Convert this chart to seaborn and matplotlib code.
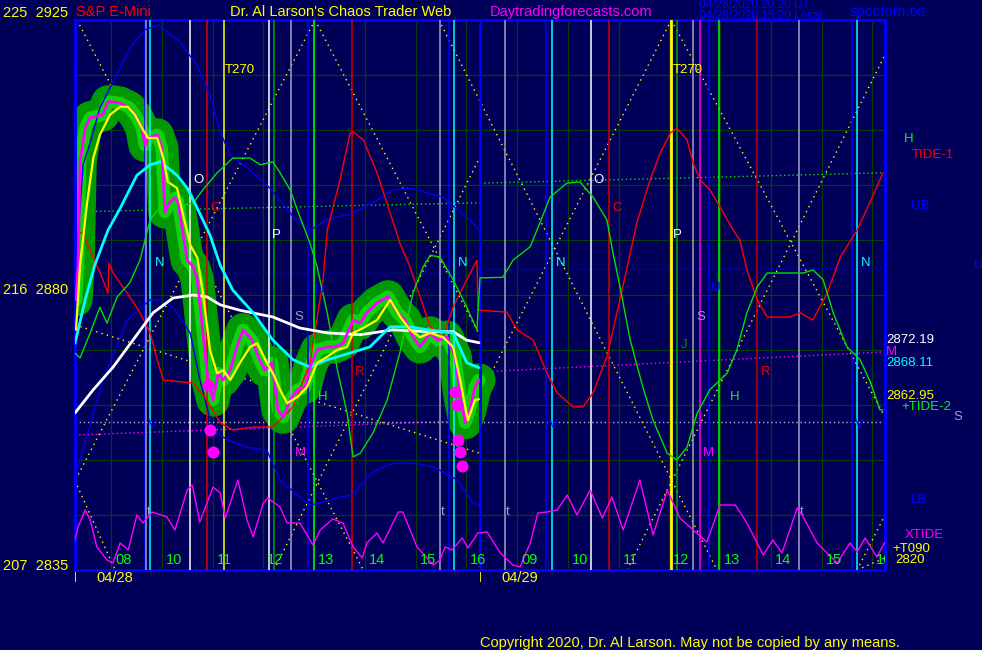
import matplotlib
matplotlib.use("Agg")
import matplotlib.pyplot as plt
import seaborn as sns

# time axis: session hours, day 2 continues after 16 (17 = 09h ... 24 = 16h)
hour_ticks = list(range(9, 25))
hour_labels = ['08', '10', '11', '12', '13', '14', '15', '16',
               '09', '10', '11', '12', '13', '14', '15', '16']
price_grid = [2844, 2853, 2862, 2871, 2880, 2889, 2898, 2907, 2916]
t_start, t_end, day_break = 8.29, 24.25, 16.27

# S&P e-mini price, 04/28 (magenta)
price_t = [8.31, 8.35, 8.39, 8.49, 8.59, 8.84, 8.94, 9.04, 9.18, 9.37, 9.51, 9.61, 9.67, 9.73,
           9.91, 10.00, 10.06, 10.16, 10.26, 10.32, 10.40, 10.50, 10.62, 10.70, 10.81, 10.91,
           11.01, 11.11, 11.21, 11.35, 11.48, 11.60, 11.78, 11.90, 12.03, 12.17, 12.29, 12.39,
           12.53, 12.67, 12.82, 12.92, 13.06, 13.26, 13.41, 13.57, 13.77, 13.91, 14.04, 14.24,
           14.46, 14.64, 14.79, 14.95, 15.09, 15.29, 15.44, 15.62, 15.78, 15.88, 15.98, 16.07,
           16.17, 16.25]
price_p = [2879.2, 2884.9, 2901.8, 2907.3, 2909.0, 2909.5, 2911.6, 2911.6, 2911.4, 2910.6,
           2909.0, 2907.3, 2904.5, 2905.7, 2906.2, 2904.1, 2893.6, 2895.2, 2895.9, 2895.2,
           2891.0, 2885.7, 2884.6, 2882.5, 2873.8, 2866.1, 2862.8, 2867.2, 2866.1, 2867.7,
           2871.5, 2874.3, 2872.6, 2869.9, 2867.7, 2868.9, 2861.2, 2860.0, 2862.8, 2864.5,
           2864.9, 2868.2, 2871.0, 2871.5, 2871.5, 2872.1, 2875.9, 2875.4, 2877.1, 2878.7,
           2879.7, 2877.1, 2875.9, 2873.1, 2871.5, 2873.8, 2872.6, 2873.1, 2869.9, 2863.3,
           2859.1, 2861.2, 2864.9, 2866.1]

# smoothed price (yellow)
smooth_t = [8.31, 8.39, 8.53, 8.65, 8.78, 8.98, 9.18, 9.33, 9.47, 9.61, 9.73, 9.91, 10.03,
            10.12, 10.30, 10.42, 10.56, 10.70, 10.81, 10.95, 11.09, 11.21, 11.35, 11.54, 11.74,
            11.88, 12.07, 12.19, 12.33, 12.47, 12.67, 12.86, 13.06, 13.26, 13.45, 13.65, 13.77,
            13.97, 14.24, 14.50, 14.70, 14.89, 15.09, 15.29, 15.54, 15.74, 15.88, 16.03, 16.17,
            16.25]
smooth_p = [2874.3, 2884.9, 2895.2, 2902.4, 2906.2, 2909.5, 2910.8, 2910.8, 2909.5, 2907.3,
            2905.7, 2905.7, 2902.4, 2898.5, 2897.5, 2893.1, 2888.2, 2886.1, 2880.3, 2871.0,
            2867.2, 2867.7, 2866.1, 2868.9, 2871.5, 2872.1, 2868.9, 2867.2, 2864.5, 2862.3,
            2863.3, 2864.9, 2868.9, 2869.9, 2871.0, 2871.5, 2873.8, 2874.6, 2875.9, 2879.2,
            2876.4, 2874.3, 2873.1, 2873.8, 2873.1, 2871.5, 2866.1, 2859.5, 2862.8, 2862.95]

# fast average (cyan)
fast_t = [8.29, 8.49, 8.68, 8.94, 9.18, 9.51, 9.77, 9.97, 10.30, 10.50, 10.70, 10.95, 11.15,
          11.40, 11.80, 12.19, 12.59, 12.92, 13.26, 13.71, 14.10, 14.50, 14.89, 15.23, 15.74,
          16.01, 16.25]
fast_p = [2872.1, 2879.2, 2884.9, 2890.6, 2894.2, 2899.6, 2901.3, 2901.8, 2899.6, 2897.5,
          2894.2, 2889.8, 2884.9, 2880.8, 2877.1, 2872.6, 2869.4, 2868.2, 2869.4, 2870.5,
          2871.5, 2874.8, 2874.8, 2874.3, 2873.8, 2868.9, 2868.11]

# slow average (white)
slow_t = [8.29, 8.65, 9.04, 9.43, 9.83, 10.22, 10.62, 10.89, 11.15, 11.54, 12.19, 12.72,
          13.26, 13.91, 14.56, 15.23, 15.74, 16.01, 16.25]
slow_p = [2860.7, 2864.5, 2868.2, 2872.6, 2877.1, 2879.5, 2880.0, 2879.7, 2878.4, 2877.5,
          2876.4, 2874.6, 2873.8, 2873.5, 2874.3, 2874.0, 2874.0, 2872.6, 2872.19]

# upper / lower bands (blue)
ub_t = [8.33, 8.45, 8.59, 8.78, 9.04, 9.37, 9.67, 9.93, 10.36, 10.69, 10.95, 11.15, 11.35,
        11.68, 12.13, 12.59, 12.92, 13.26, 13.77, 14.24, 14.56, 14.89, 15.54, 16.07, 16.25]
ub_p = [2887.4, 2901.3, 2905.0, 2910.6, 2914.9, 2920.4, 2923.4, 2924.2, 2921.4, 2917.6,
        2912.7, 2906.7, 2902.9, 2900.8, 2897.5, 2892.8, 2890.6, 2892.3, 2893.4, 2895.5,
        2897.2, 2897.5, 2896.0, 2892.3, 2890.6]
lb_t = [8.29, 8.84, 9.32, 9.77, 9.97, 10.22, 10.56, 10.75, 11.01, 11.29, 11.68, 12.07, 12.33,
        12.72, 12.92, 13.12, 13.51, 13.77, 14.04, 14.24, 14.56, 14.95, 15.35, 15.83, 16.13,
        16.27]
lb_p = [2850.2, 2866.1, 2875.9, 2879.2, 2879.2, 2878.0, 2873.8, 2866.1, 2857.9, 2856.3,
        2855.1, 2854.6, 2849.7, 2846.9, 2845.6, 2846.0, 2846.9, 2847.3, 2850.1, 2851.4,
        2852.5, 2852.5, 2851.9, 2849.7, 2846.0, 2845.6]

# forecast TIDE-1 (red), both days
tide1_t = [8.33, 8.45, 8.65, 8.84, 8.94, 8.96, 9.04, 9.32, 9.57, 9.77, 9.91, 10.03, 10.36,
           10.62, 10.89, 11.15, 11.40, 11.80, 12.19, 12.59, 12.92, 13.18, 13.26, 13.51, 13.71,
           13.77, 13.97, 14.24, 14.50, 14.69, 14.89, 15.09, 15.29, 15.54, 15.74, 16.01, 16.21,
           16.23, 16.27, 16.80, 17.00, 17.32, 17.59, 17.79, 18.10, 18.30, 18.50, 18.77, 18.97,
           19.17, 19.36, 19.62, 19.82, 20.02, 20.15, 20.35, 20.47, 20.61, 20.80, 21.00, 21.26,
           21.39, 21.53, 21.73, 21.93, 22.38, 22.58, 22.83, 23.11, 23.37, 23.70, 23.95, 24.21]
tide1_p = [2890.3, 2890.1, 2886.2, 2882.5, 2880.3, 2885.2, 2883.6, 2880.3, 2877.1, 2873.8,
           2869.4, 2866.1, 2865.8, 2865.6, 2862.8, 2859.1, 2857.9, 2858.4, 2858.4, 2861.7,
           2868.9, 2882.5, 2890.6, 2898.8, 2906.5, 2906.7, 2905.4, 2900.0, 2893.4, 2888.5,
           2884.6, 2879.7, 2874.8, 2873.1, 2878.0, 2882.5, 2885.7, 2877.5, 2877.5, 2877.2,
           2874.3, 2872.6, 2867.2, 2864.0, 2861.7, 2861.7, 2864.0, 2869.9, 2877.1, 2884.6,
           2891.8, 2898.8, 2903.2, 2906.5, 2907.3, 2905.4, 2901.6, 2898.8, 2897.2, 2894.4,
           2890.6, 2889.0, 2884.1, 2879.2, 2876.4, 2876.4, 2877.1, 2875.9, 2880.3, 2886.2,
           2890.6, 2895.1, 2900.0]

# forecast TIDE-2 (green), both days
tide2_t = [8.29, 8.39, 8.59, 8.78, 8.92, 9.12, 9.37, 9.57, 9.77, 9.97, 10.30, 10.62, 10.81,
           11.09, 11.40, 11.74, 11.94, 12.19, 12.33, 12.53, 12.72, 12.92, 13.06, 13.26, 13.45,
           13.65, 13.77, 13.91, 14.16, 14.44, 14.69, 14.95, 15.15, 15.29, 15.48, 15.74, 16.01,
           16.21, 16.27, 16.72, 16.92, 17.26, 17.45, 17.65, 17.98, 18.24, 18.50, 18.77, 18.89,
           19.03, 19.23, 19.48, 19.68, 19.96, 20.15, 20.35, 20.55, 20.80, 21.14, 21.33, 21.53,
           21.73, 21.93, 22.44, 22.64, 22.83, 23.03, 23.23, 23.50, 23.76, 23.96, 24.15, 24.21]
tide2_p = [2870.5, 2869.7, 2873.8, 2878.0, 2875.4, 2879.7, 2882.0, 2885.7, 2892.3, 2894.4,
           2894.4, 2895.1, 2897.2, 2900.0, 2902.4, 2902.4, 2901.3, 2901.8, 2900.0, 2897.2,
           2892.8, 2888.5, 2884.6, 2877.1, 2868.2, 2860.7, 2853.5, 2854.1, 2857.4, 2862.8,
           2870.5, 2880.3, 2884.6, 2886.5, 2886.2, 2882.5, 2878.0, 2874.3, 2882.8, 2882.9,
           2885.7, 2887.9, 2891.8, 2896.0, 2898.3, 2898.5, 2896.0, 2892.3, 2886.9, 2881.3,
           2872.6, 2864.9, 2859.5, 2854.1, 2853.0, 2855.1, 2860.7, 2864.5, 2867.2, 2871.0,
           2877.1, 2881.3, 2883.6, 2883.6, 2883.6, 2884.1, 2882.5, 2877.1, 2871.5, 2869.4,
           2865.8, 2861.2, 2861.2]

# XTIDE oscillator (own scale, 0 = bottom of chart)
xtide_t = [8.29, 8.35, 8.49, 8.59, 8.72, 8.92, 9.04, 9.18, 9.34, 9.51, 9.63, 9.81, 10.10,
           10.26, 10.50, 10.60, 10.75, 11.01, 11.15, 11.25, 11.50, 11.68, 11.80, 12.00, 12.09,
           12.33, 12.47, 12.72, 12.98, 13.12, 13.37, 13.57, 13.77, 13.95, 14.04, 14.24, 14.36,
           14.66, 14.75, 15.03, 15.35, 15.48, 15.58, 15.72, 15.92, 16.03, 16.23, 16.41, 16.67,
           16.92, 17.06, 17.26, 17.41, 17.59, 17.79, 17.99, 18.18, 18.44, 18.68, 18.87, 19.09,
           19.42, 19.68, 19.96, 20.21, 20.47, 20.74, 21.00, 21.30, 21.53, 21.85, 22.04, 22.22,
           22.52, 22.64, 22.91, 23.31, 23.56, 23.70, 23.86, 24.09, 24.25]
xtide_v = [30, 43, 60, 50, 23, 10, 7, 27, 20, 55, 47, 58, 53, 40, 80, 85, 48, 83, 77, 52,
           90, 50, 33, 67, 72, 63, 47, 47, 25, 40, 51, 47, 23, 12, 27, 37, 27, 58, 58, 23,
           5, 10, 23, 20, 32, 22, 37, 38, 17, 5, 3, 27, 57, 58, 60, 75, 55, 80, 52, 73,
           40, 90, 35, 80, 52, 40, 28, 65, 65, 47, 15, 30, 17, 62, 53, 27, 7, 27, 18, 32,
           13, 28]

# turn points on price (magenta dots)
turn_t = [10.91, 10.95, 11.01, 15.78, 15.82, 15.84, 15.88, 15.92]
turn_p = [2865.3, 2857.9, 2854.3, 2864.1, 2862.0, 2856.3, 2854.3, 2852.0]

# level lines: (t0, p0, t1, p1)
green_level = [(8.29, 2893.6, 16.27, 2895.1), (16.27, 2898.3, 24.25, 2900.0)]
blue_level = [(8.29, 2883.6, 16.27, 2883.6), (16.27, 2884.1, 24.25, 2884.4)]
magenta_level = [(8.29, 2857.1, 16.27, 2859.5), (16.27, 2867.4, 24.25, 2870.7)]
gray_level = [(8.29, 2859.2, 24.25, 2859.2)]
angle_lines = [(8.33, 2925, 13.97, 2835), (13.02, 2925, 8.29, 2849.6), (8.29, 2849.6, 9.08, 2835),
               (13.02, 2925, 16.27, 2873.3), (12.21, 2835, 16.27, 2902.6),
               (15.46, 2925, 20.94, 2835), (20.04, 2925, 16.27, 2863.6),
               (20.04, 2925, 24.25, 2860.0), (19.17, 2835, 24.25, 2919.3),
               (23.70, 2835, 24.25, 2844.0), (23.70, 2835, 24.25, 2837.0),
               (8.29, 2875.1, 16.27, 2854.1)]

# timing lines
cycle_t = [9.67, 9.69, 9.77, 10.56, 10.89, 11.23, 12.11, 12.21, 12.55, 12.88, 13.00, 13.75,
           15.48, 15.66, 15.76, 16.27, 16.76, 17.57, 17.69, 18.46, 18.81, 20.04, 20.15, 20.47,
           20.61, 20.78, 20.98, 21.73, 22.56, 23.60, 23.70]
cycle_c = ['#0000ff', '#a0a0c8', '#00ffff', '#ffffff', '#e00000', '#ffff00', '#ffffff', '#00a000',
           '#a0a0c8', '#0000ff', '#00ff00', '#d00000', '#a0a0c8', '#0000ff', '#00ffff', '#0000ff',
           '#a0a0c8', '#0000ff', '#00ffff', '#ffffff', '#d00000', '#ffff00', '#00a000', '#a0a0c8',
           '#ff00ff', '#0000ff', '#00ff00', '#c00000', '#a0a0c8', '#0000ff', '#00ffff']

# letters on the chart (time, price, text, colour)
marks = [(11.25, 2916.8, 'T270', '#ffff00'), (20.07, 2916.8, 'T270', '#ffff00'),
         (10.62, 2898.8, 'O', '#ffffff'), (18.51, 2898.8, 'O', '#ffffff'),
         (10.96, 2894.2, 'C', '#ff0000'), (18.88, 2894.2, 'C', '#ff0000'),
         (12.17, 2889.8, 'P', '#ffffff'), (20.07, 2889.8, 'P', '#ffffff'),
         (9.86, 2885.2, 'N', '#00ffff'), (15.83, 2885.2, 'N', '#00ffff'),
         (17.76, 2885.2, 'N', '#00ffff'), (23.77, 2885.2, 'N', '#00ffff'),
         (12.62, 2876.4, 'S', '#a0a0c8'), (20.54, 2876.4, 'S', '#a0a0c8'),
         (13.07, 2863.3, 'H', '#00ff00'), (21.20, 2863.3, 'H', '#00ff00'),
         (12.63, 2854.1, 'M', '#ff00ff'), (20.66, 2854.1, 'M', '#ff00ff'),
         (13.01, 2880.8, 'U', '#0000ff'), (20.83, 2881.1, 'U', '#0000ff'),
         (20.22, 2871.8, 'J', '#009000'), (21.80, 2867.4, 'R', '#e00000'),
         (13.80, 2867.4, 'R', '#e00000'),
         (9.72, 2858.7, 'V', '#0000ff'), (17.62, 2858.7, 'V', '#0000ff'), (23.65, 2858.7, 'V', '#0000ff'),
         (9.70, 2844.5, 't', '#a0a0c8'), (15.50, 2844.5, 't', '#a0a0c8'),
         (16.78, 2844.5, 't', '#a0a0c8'), (22.58, 2844.5, 't', '#a0a0c8')]
side_marks = [(24.63, 2905.6, 'H', '#00ff00'), (24.78, 2902.9, 'TIDE-1', '#ff0000'),
              (24.76, 2894.6, 'UB', '#0000ff'), (26.0, 2884.9, 'U', '#0000ff'),
              (24.27, 2872.6, '2872.19', '#ffffff'), (24.27, 2870.6, 'M', '#ff00ff'),
              (24.27, 2868.9, '2868.11', '#00ffff'), (24.27, 2863.5, '2862.95', '#ffff00'),
              (24.58, 2861.6, '+TIDE-2', '#00ff00'), (25.60, 2860.0, 'S', '#a0a0c8'),
              (24.76, 2846.5, 'LB', '#0000ff'), (24.63, 2840.7, 'XTIDE', '#ff00ff'),
              (24.39, 2838.4, '+T090', '#ffff00'), (24.45, 2836.6, '2820', '#ffff00')]

BG = '#000058'
sns.set_style('dark', {'axes.facecolor': BG, 'figure.facecolor': BG})
plt.rcParams['font.family'] = ['Liberation Sans', 'DejaVu Sans']

fig = plt.figure(figsize=(9.82, 6.5), dpi=100, facecolor=BG)
ax = fig.add_axes([75 / 982, 80 / 650, 810 / 982, 550 / 650])
ax.set_facecolor(BG)


def line(t, p, color, lw=0.8, ls='-', z=3, axis=None, **kw):
    sns.lineplot(x=t, y=p, ax=axis if axis is not None else ax, color=color, lw=lw,
                 linestyle=ls, zorder=z, estimator=None, sort=False, legend=False, **kw)


# grid
for h in hour_ticks:
    ax.axvline(h, color='#0b3a0b', lw=0.9, zorder=0)
for g in price_grid:
    ax.axhline(g, color='#0b3a0b', lw=0.9, zorder=0)

# level lines and angle lines
dot = (0, (1, 2))
for seg_list, col in [(green_level, '#00e000'), (blue_level, '#0000ff'),
                      (magenta_level, '#ff00ff'), (gray_level, '#b0b0d0')]:
    for t0, p0, t1, p1 in seg_list:
        line([t0, t1], [p0, p1], col, lw=1.0, ls=dot, z=1)
for t0, p0, t1, p1 in angle_lines:
    line([t0, t1], [p0, p1], '#ffff00', lw=1.0, ls=(0, (1, 3)), z=1)

# glow round the price
line(price_t, price_p, '#009a00', lw=24, z=2, solid_capstyle='round', solid_joinstyle='round')
line(price_t, price_p, '#10dd10', lw=9, z=2, alpha=0.85, solid_capstyle='round', solid_joinstyle='round')

# timing lines
for t, c in zip(cycle_t, cycle_c):
    ax.axvline(t, color=c, lw=2.0 if t in (20.04, 16.27) else 1.1, zorder=3)

# bands and forecasts
line(ub_t, ub_p, '#0000ee', lw=1.0, z=4)
line(lb_t, lb_p, '#0000ee', lw=1.0, z=4)
line(tide1_t, tide1_p, '#ff0000', lw=1.0, z=4)
line(tide2_t, tide2_p, '#00e000', lw=1.0, z=4)

# averages and price
line(slow_t, slow_p, '#ffffff', lw=2.0, z=5)
line(fast_t, fast_p, '#00ffff', lw=2.0, z=5)
line(price_t, price_p, '#ff00ff', lw=2.0, z=6)
line(smooth_t, smooth_p, '#ffff00', lw=1.6, z=7)
sns.scatterplot(x=turn_t, y=turn_p, ax=ax, color='#ff00ff', s=75, linewidth=0, zorder=8, legend=False)

ax.set_xlim(t_start, t_end)
ax.set_ylim(2835, 2925)
ax.set_xticks([])
ax.set_yticks([])
ax.set_xlabel('')
ax.set_ylabel('')
for s in ax.spines.values():
    s.set_color('#0000ff')
    s.set_linewidth(2.2)
    s.set_visible(True)

# XTIDE on its own scale
ax2 = ax.twinx()
line(xtide_t, xtide_v, '#ff00ff', lw=1.0, z=4, axis=ax2)
ax2.set_ylim(0, 550)
ax2.set_xlim(t_start, t_end)
ax2.set_yticks([])
ax2.set_ylabel('')
for s in ax2.spines.values():
    s.set_visible(False)

# hour labels along bottom (cut off by the right border, as in the original)
for h, lab in zip(hour_ticks, hour_labels):
    ax2.text(h + 0.08, 3, lab, color='#00ff00', fontsize=10.5, ha='left', va='bottom',
             zorder=9, clip_on=True)

for t, p, s, c in marks:
    ax.text(t, p, s, color=c, fontsize=9.5, ha='left', va='center', zorder=9)
for t, p, s, c in side_marks:
    ax.text(t, p, s, color=c, fontsize=9.5, ha='left', va='center', zorder=9, clip_on=False)

# header / footer text
def ftext(x, y, s, c, size=10.5, **kw):
    fig.text(x / 982, 1 - y / 650, s, color=c, fontsize=size, va='center', **kw)

ftext(3, 13, '225  2925', '#ffff00')
ftext(3, 290, '216  2880', '#ffff00')
ftext(3, 566, '207  2835', '#ffff00')
ftext(76, 12, 'S&P E-Mini', '#ff0000')
ftext(230, 12, "Dr. Al Larson's Chaos Trader Web", '#ffff00')
ftext(490, 12, 'Daytradingforecasts.com', '#ff00ff')
ftext(699, 5, '04/28/2020 20:20 UT', '#0000ff', size=8.5)
ftext(699, 16, '04/28/2020 15:20 Local', '#0000ff', size=8.5)
ftext(850, 12, 'spcctom.txt', '#0000ff', size=11)
ftext(96, 578, '04/28', '#ffff00')
ftext(501, 578, '04/29', '#ffff00')
ftext(74, 577, '|', '#ffff00', size=8)
ftext(479, 577, '|', '#ffff00', size=8)
ftext(480, 643, 'Copyright 2020, Dr. Al Larson. May not be copied by any means.', '#ffff00')

fig.savefig('out.png', dpi=100, facecolor=BG)
